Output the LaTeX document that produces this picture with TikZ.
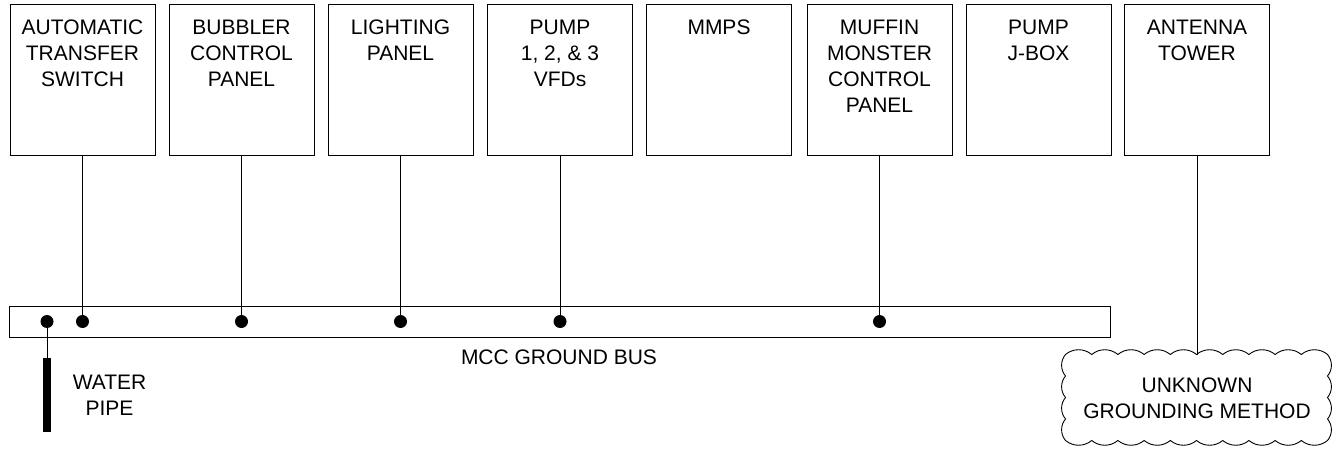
\documentclass[tikz,border=0pt]{standalone}
\usepackage{fontspec}
\setmainfont{Liberation Sans}
\begin{document}
\begin{tikzpicture}[x=1pt,y=1pt,
  line width=1pt,
  txt/.style={font=\fontsize{21}{26}\selectfont, align=center, inner sep=0pt},
  panel/.style={draw, rectangle, minimum width=145pt, minimum height=151pt, inner sep=0pt},
  dot/.style={circle, fill, inner sep=0pt, minimum size=13pt},
  wire/.style={line width=1pt}]
\useasboundingbox (0,0) rectangle (1341,448);

% panels
\foreach \n/\x in {b1/82.5, b2/241.5, b3/400.5, b4/560, b5/719, b6/879.5, b7/1038.5, b8/1197}
  \node[panel] (\n) at (\x,367.5) {};

\node[txt, anchor=north] (l1) at ([yshift=-15pt]b1.north) {AUTOMATIC\\TRANSFER\\SWITCH};
\node[txt, anchor=north] (l2) at ([yshift=-15pt]b2.north) {BUBBLER\\CONTROL\\PANEL};
\node[txt, anchor=north] (l3) at ([yshift=-15pt]b3.north) {LIGHTING\\PANEL};
\node[txt, anchor=north] (l4) at ([yshift=-15pt]b4.north) {PUMP\\1, 2, \& 3\\VFDs};
\node[txt, anchor=north] (l5) at ([yshift=-15pt]b5.north) {MMPS};
\node[txt, anchor=north] (l6) at ([yshift=-15pt]b6.north) {MUFFIN\\MONSTER\\CONTROL\\PANEL};
\node[txt, anchor=north] (l7) at ([yshift=-15pt]b7.north) {PUMP\\J-BOX};
\node[txt, anchor=north] (l8) at ([yshift=-15pt]b8.north) {ANTENNA\\TOWER};

% ground bus
\node[draw, rectangle, minimum width=1101pt, minimum height=31pt, inner sep=0pt] (bus) at (559.5,126.5) {};
\node[txt] (buslabel) at (559,90.5) {MCC GROUND BUS};

% taps
\foreach \n in {b1,b2,b3,b4,b6} {
  \node[dot] (d\n) at (\n.south |- bus.center) {};
  \draw[wire] (\n.south) -- (d\n.center);
}

% water pipe
\node[dot] (dw) at (47,126.5) {};
\node[fill, rectangle, inner sep=0pt, minimum width=8pt, minimum height=74pt] (pipe) at (47,53) {};
\draw[wire] (dw.center) -- (pipe.north);
\node[txt] (pipelabel) at (109.5,52.5) {WATER\\PIPE};

% cloud
\node[txt, minimum width=262pt, minimum height=86pt] (cloud) at (1197,50) {UNKNOWN\\GROUNDING METHOD};
\draw[line width=0.9pt] (cloud.north west)
  foreach \i in {1,...,10} {arc[start angle=130, end angle=50, radius=20.38pt]}
  foreach \i in {1,...,4} {arc[start angle=40, end angle=-40, radius=16.72pt]}
  foreach \i in {1,...,10} {arc[start angle=-50, end angle=-130, radius=20.38pt]}
  foreach \i in {1,...,4} {arc[start angle=220, end angle=140, radius=16.72pt]}
  -- cycle;
\draw[wire] (b8.south) -- (cloud.north);
\end{tikzpicture}
\end{document}
